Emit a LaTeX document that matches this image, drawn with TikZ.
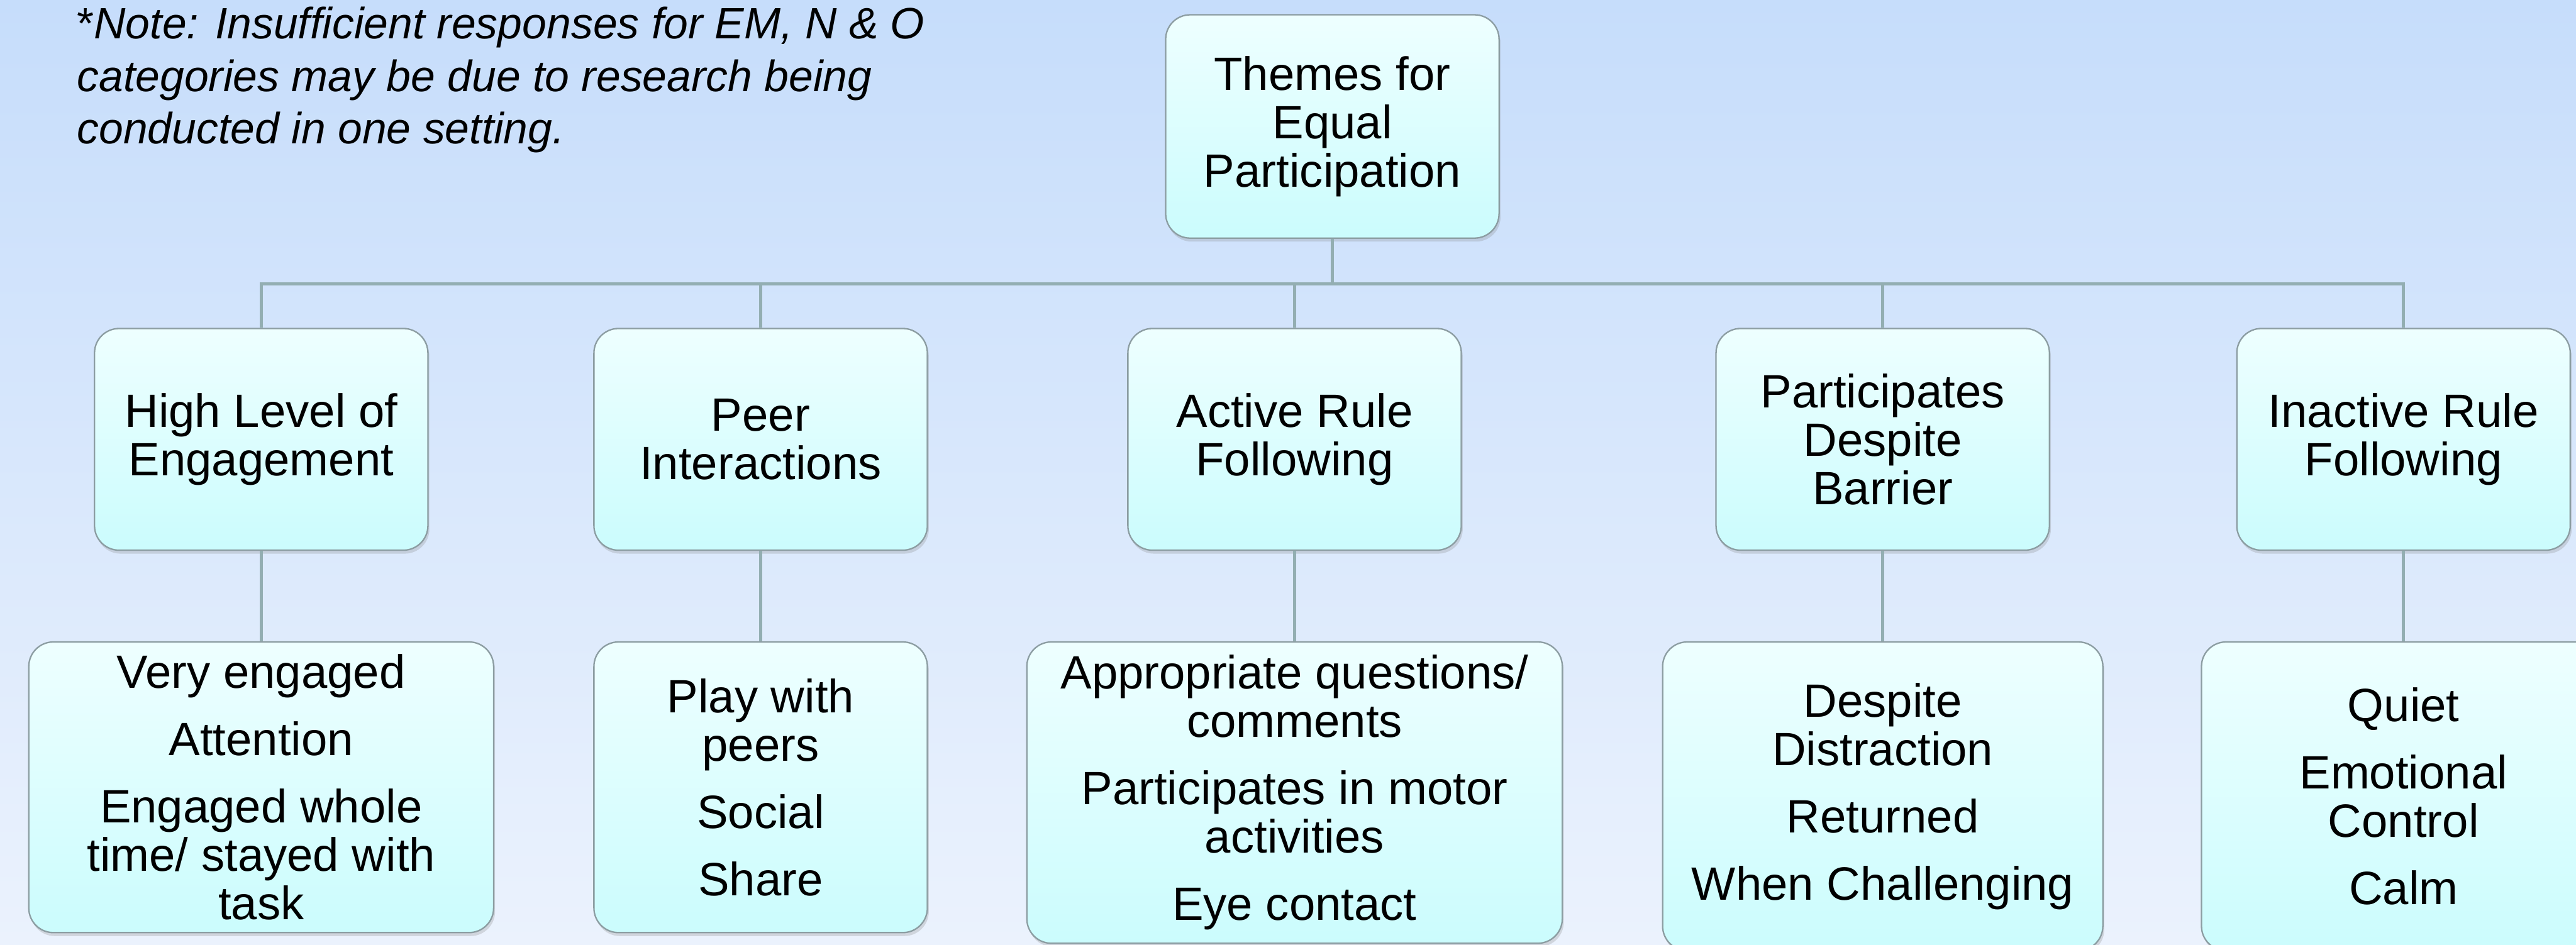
\documentclass[tikz,border=0pt]{standalone}
\usepackage{fontspec}
\setsansfont{Liberation Sans}
\usetikzlibrary{positioning,shadows}
\definecolor{bgtop}{HTML}{C6DDFB}
\definecolor{bgbottom}{HTML}{EBF2FD}
\definecolor{boxtop}{HTML}{EEFFFF}
\definecolor{boxbottom}{HTML}{CBFCFD}
\definecolor{boxline}{HTML}{8C9DA2}
\definecolor{linkline}{HTML}{93AEB2}

\begin{document}
\begin{tikzpicture}[
    x=0.02cm, y=0.02cm,
    font=\sffamily\fontsize{16.2}{16.8}\selectfont,
    theme/.style={draw=boxline, top color=boxtop, bottom color=boxbottom, rectangle, rounded corners=8.5pt, minimum width=4.06cm, minimum height=2.7cm, align=center, line width=0.5pt, drop shadow={shadow xshift=0.5pt, shadow yshift=-1.2pt, opacity=0.25}},
    item/.style={theme, below=1.1cm of #1},
    link/.style={draw=linkline, line width=1pt},
    note/.style={font=\sffamily\itshape\fontsize{15.2}{18.2}\selectfont, align=left, inner sep=0pt}
  ]
    % page background
    \useasboundingbox (0,0) rectangle (1568,575);
    \shade[top color=bgtop, bottom color=bgbottom] (0,0) rectangle (1568,575);

    \node[note, anchor=north west] (note) at (46.5,571) {{\upshape *}Note: Insufficient responses for EM, N \& O\\categories may be due to research being\\conducted in one setting.};

    \node[theme, minimum height=2.72cm] (themes) at (811,498) {Themes for\\Equal\\Participation};

    % first level
    \node[theme] (engage) at (159,307.5) {High Level of\\Engagement};
    \node[theme] (peer) at (463,307.5) {Peer\\Interactions};
    \node[theme] (active) at (788,307.5) {Active Rule\\Following};
    \node[theme] (despite) at (1146,307.5) {Participates\\Despite\\Barrier};
    \node[theme] (inactive) at (1463,307.5) {Inactive Rule\\Following};

    % second level
    \node[item=engage, minimum width=5.66cm, minimum height=3.54cm] (engageList) {Very engaged\\[6.5pt]Attention\\[6.5pt]Engaged whole\\time/ stayed with\\task};
    \node[item=peer, minimum width=4.06cm, minimum height=3.54cm] (peerList) {Play with\\peers\\[6.5pt]Social\\[6.5pt]Share};
    \node[item=active, minimum width=6.52cm, minimum height=3.67cm] (activeList) {Appropriate questions/\\comments\\[6.5pt]Participates in motor\\activities\\[6.5pt]Eye contact};
    \node[item=despite, minimum width=5.36cm, minimum height=3.76cm] (despiteList) {Despite\\Distraction\\[6.5pt]Returned\\[6.5pt]When Challenging};
    \node[item=inactive, minimum width=4.92cm, minimum height=3.76cm] (inactiveList) {Quiet\\[6.5pt]Emotional\\Control\\[6.5pt]Calm};

    \draw[link] (themes.south) -- ++(0,-27.5) -| (engage.north);
    \draw[link] (themes.south) -- ++(0,-27.5) -| (peer.north);
    \draw[link] (themes.south) -- ++(0,-27.5) -| (active.north);
    \draw[link] (themes.south) -- ++(0,-27.5) -| (despite.north);
    \draw[link] (themes.south) -- ++(0,-27.5) -| (inactive.north);

    \draw[link] (engage) -- (engageList);
    \draw[link] (peer) -- (peerList);
    \draw[link] (active) -- (activeList);
    \draw[link] (despite) -- (despiteList);
    \draw[link] (inactive) -- (inactiveList);
  \end{tikzpicture}
\end{document}
